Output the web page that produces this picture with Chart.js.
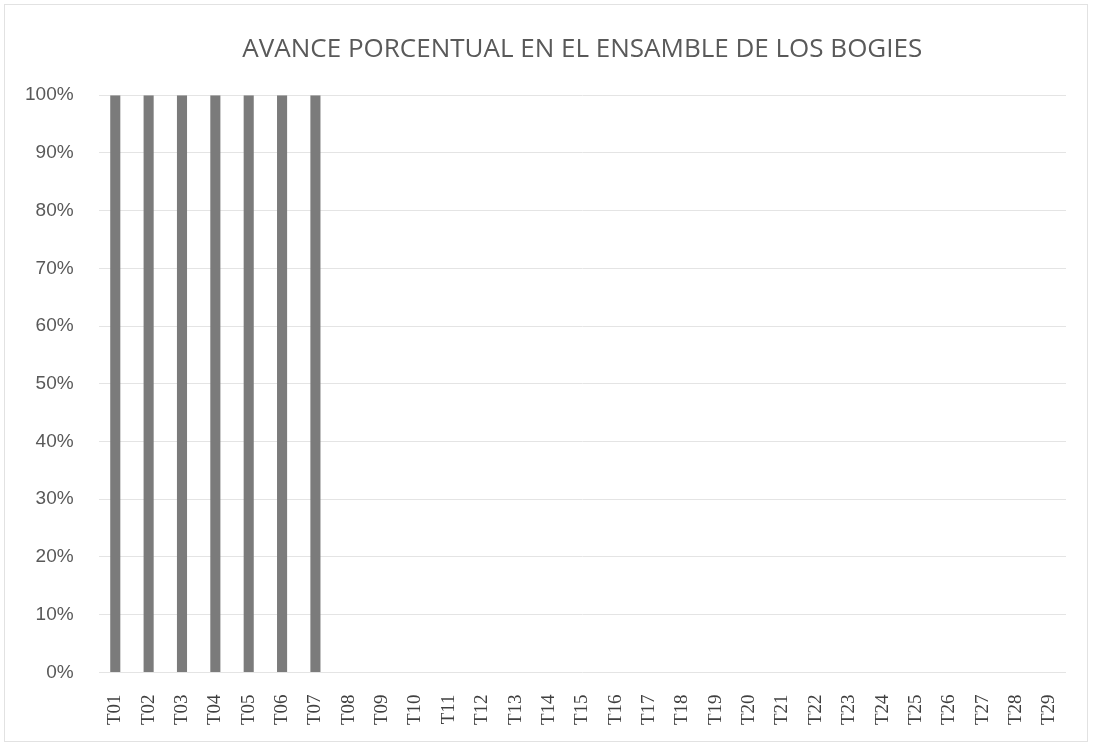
<!DOCTYPE html>
<html>
<head>
    <title>Avance porcentual</title>
    <meta charset="utf-8" />
    <style>
        body { margin: 0; background: #fff; }
        #wrap { position: relative; width: 1094px; height: 749px; }
        #frame { position: absolute; left: 4px; top: 4px; width: 1084px; height: 738px; border: 1px solid #e2e2e2; box-sizing: border-box; }
    </style>
</head>
<body>
<div id="wrap">
    <div id="frame"></div>
    <canvas id="chart" width="1094" height="749"></canvas>
</div>

<script src="https://cdn.jsdelivr.net/npm/chart.js@4.4.0/dist/chart.umd.min.js"></script>
<script>
    // tramos T01..T29
    var categories = ['T01','T02','T03','T04','T05','T06','T07','T08','T09','T10',
                      'T11','T12','T13','T14','T15','T16','T17','T18','T19','T20',
                      'T21','T22','T23','T24','T25','T26','T27','T28','T29'];
    // avance (0..1)
    var avance = [1,1,1,1,1,1,1,0,0,0, 0,0,0,0,0,0,0,0,0,0, 0,0,0,0,0,0,0,0,0];
    var yTicks = [0,0.1,0.2,0.3,0.4,0.5,0.6,0.7,0.8,0.9,1];

    var ctx = document.getElementById('chart').getContext('2d');
    new Chart(ctx, {
        type: 'bar',
        data: {
            labels: categories,
            datasets: [{
                data: avance,
                backgroundColor: '#7b7b7b',
                barPercentage: 0.55,
                categoryPercentage: 0.55
            }]
        },
        options: {
            responsive: false,
            animation: false,
            layout: { padding: { left: 0, right: 28, top: 14, bottom: 10 } },
            plugins: {
                legend: { display: false },
                tooltip: { enabled: false },
                title: {
                    display: true,
                    fullSize: false, // centre over the plot area
                    text: 'AVANCE PORCENTUAL EN EL ENSAMBLE DE LOS BOGIES',
                    color: '#595959',
                    font: { family: 'Open Sans', size: 26, weight: 'normal' },
                    padding: { top: 20, bottom: 30 }
                }
            },
            scales: {
                x: {
                    grid: { display: false },
                    border: { display: false },
                    ticks: {
                        color: '#404040',
                        font: { family: 'Liberation Serif', size: 19 },
                        minRotation: 90,
                        maxRotation: 90,
                        padding: 14
                    }
                },
                y: {
                    min: 0,
                    max: 1,
                    afterBuildTicks: function (axis) {
                        axis.ticks = yTicks.map(function (v) { return { value: v }; });
                    },
                    grid: { color: '#e4e4e4', lineWidth: 1, drawTicks: false },
                    border: { display: false },
                    ticks: {
                        color: '#595959',
                        font: { family: 'Liberation Sans', size: 19 },
                        padding: 25,
                        callback: function (v) { return Math.round(v * 100) + '%'; }
                    }
                }
            }
        }
    });
</script>
</body>
</html>
